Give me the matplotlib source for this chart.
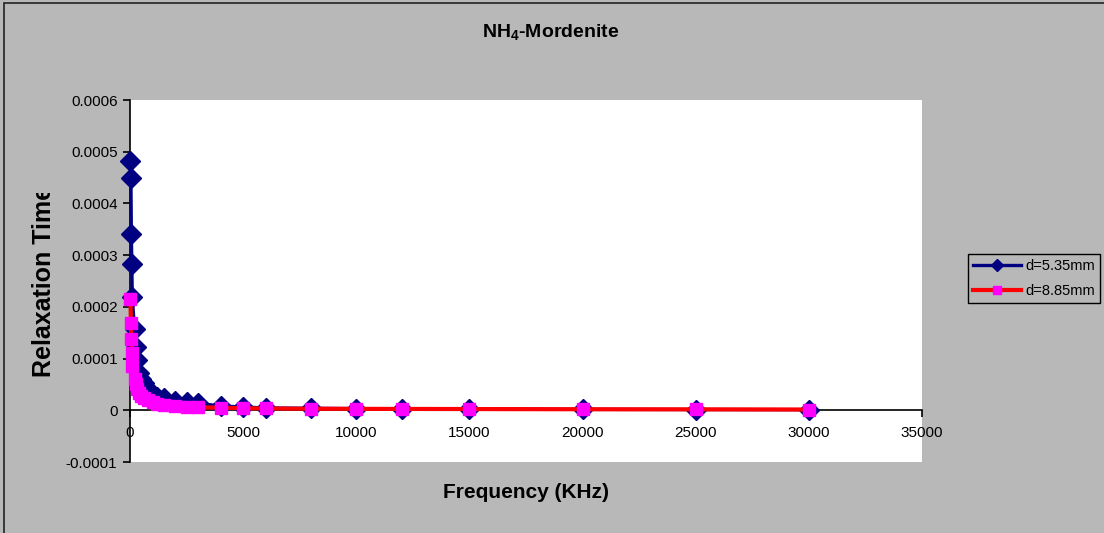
import matplotlib
matplotlib.use("Agg")
import matplotlib.pyplot as plt
from matplotlib.patches import Rectangle
from matplotlib.transforms import Bbox, TransformedBbox

plt.rcParams['font.family'] = ['Liberation Sans', 'DejaVu Sans']
plt.rcParams['mathtext.fontset'] = 'custom'
plt.rcParams['mathtext.rm'] = 'Liberation Sans'
plt.rcParams['mathtext.bf'] = 'Liberation Sans:bold'

# Frequency points (KHz) shared by both samples
freq = [20, 40, 60, 80, 100, 200, 250, 300, 400, 500, 600, 800, 1000, 1200,
        1500, 2000, 2500, 3000, 4000, 5000, 6000, 8000, 10000, 12000, 15000,
        20000, 25000, 30000]

# Relaxation time for each sample thickness
tau_535 = [0.000482, 0.000449, 0.000340, 0.000282, 0.000219, 0.000157,
           0.000122, 0.0000967, 0.0000715, 0.000060, 0.000052, 0.000040,
           0.000031, 0.000026, 0.000023, 0.000018, 0.0000155, 0.0000135,
           0.0000083, 0.0000064, 0.0000045, 0.0000038, 0.0000032, 0.0000028,
           0.0000024, 0.0000018, 0.0000015, 0.0000012]
tau_885 = [0.000215, 0.000168, 0.000138, 0.000110, 0.000085, 0.000060,
           0.000050, 0.000042, 0.000034, 0.000028, 0.000024, 0.000019,
           0.000016, 0.000013, 0.000011, 0.0000085, 0.000007, 0.0000058,
           0.000005, 0.000004, 0.0000035, 0.000003, 0.0000028, 0.0000026,
           0.0000024, 0.000002, 0.0000018, 0.0000015]

x_ticks = [0, 5000, 10000, 15000, 20000, 25000, 30000, 35000]
y_ticks = [-0.0001, 0, 0.0001, 0.0002, 0.0003, 0.0004, 0.0005, 0.0006]
y_ticklabels = ['-0.0001', '0', '0.0001', '0.0002', '0.0003', '0.0004',
                '0.0005', '0.0006']

W, H = 1104, 533
bg = '#b8b8b8'

fig = plt.figure(figsize=(W / 100, H / 100), dpi=100, facecolor=bg)

# chart border
fig.patches.append(Rectangle((4 / W, -0.01), 1.02, 1 - 3 / H + 0.01,
                             transform=fig.transFigure, fill=False,
                             edgecolor='#222222', linewidth=1.2))

ax = fig.add_axes([130 / W, 71 / H, 792 / W, 362 / H])
ax.set_facecolor('white')

ax.plot(freq, tau_535, color='#000080', linewidth=2.4, marker='D',
        markersize=10, markerfacecolor='#000080', markeredgecolor='#000080',
        label='d=5.35mm', clip_on=False, zorder=3)
ax.plot(freq, tau_885, color='#ff0000', linewidth=3, marker='s',
        markersize=9, markerfacecolor='#ff00ff', markeredgecolor='#ff00ff',
        label='d=8.85mm', clip_on=False, zorder=4)

ax.set_xlim(0, 35000)
ax.set_ylim(-0.0001, 0.0006)
ax.set_xticks(x_ticks)
ax.set_xticklabels([str(v) for v in x_ticks])
ax.set_yticks(y_ticks)
ax.set_yticklabels(y_ticklabels)

for s in ['top', 'right']:
    ax.spines[s].set_visible(False)
ax.spines['bottom'].set_position(('data', 0))
ax.spines['bottom'].set_zorder(2)
ax.spines['left'].set_linewidth(1.2)
ax.spines['bottom'].set_linewidth(1.2)

ax.tick_params(axis='x', direction='out', length=5, width=1.2, pad=6.5,
               labelsize=11, colors='black')
ax.tick_params(axis='y', direction='out', length=5, width=1.2, pad=4,
               labelsize=11, colors='black')

fig.text(551 / W, 1 - 33 / H, r'NH$_\mathbf{4}$-Mordenite', ha='center',
         va='center', fontsize=14, fontweight='bold')
fig.text(526 / W, 1 - 493 / H, 'Frequency (KHz)', ha='center', va='center',
         fontsize=15, fontweight='bold')
# y label runs past the top of its box and gets cut off there
ylab = fig.text(44 / W, 1 - 377 / H, 'Relaxation Time', ha='center',
                va='bottom', rotation=90, fontsize=18, fontweight='bold')
ylab.set_clip_box(TransformedBbox(Bbox([[0, 0], [1, 1 - 193 / H]]),
                                  fig.transFigure))
ylab.set_clip_on(True)

leg = fig.legend(loc='center left', bbox_to_anchor=(968 / W, 1 - 278.5 / H),
                 fontsize=10.5, frameon=True, fancybox=False,
                 facecolor=bg, edgecolor='black', framealpha=1,
                 handlelength=3.3, handletextpad=0.3, borderpad=0.35,
                 labelspacing=0.75, borderaxespad=0)
leg.get_frame().set_linewidth(1.0)
for h in leg.legend_handles:
    h.set_markersize(6)

fig.savefig('out.png', dpi=100, facecolor=fig.get_facecolor())
